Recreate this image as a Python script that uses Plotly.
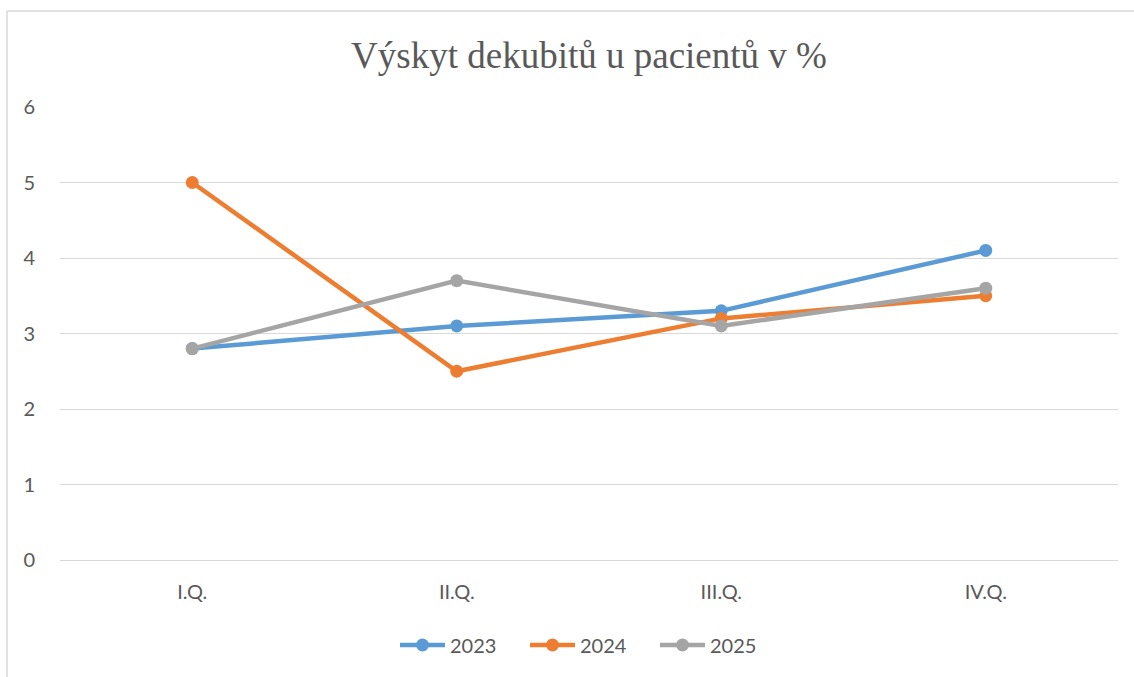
import plotly.graph_objects as go

categories = ["I.Q.", "II.Q.", "III.Q.", "IV.Q."]
years = ["2023", "2024", "2025"]
v2023 = [2.8, 3.1, 3.3, 4.1]
v2024 = [5.0, 2.5, 3.2, 3.5]
v2025 = [2.8, 3.7, 3.1, 3.6]
series = [v2023, v2024, v2025]
colors = ["#5B9BD5", "#ED7D31", "#A5A5A5"]
y_ticks = [0, 1, 2, 3, 4, 5, 6]

W, H = 1134, 677
L, R, T, B = 60, 16, 107, 117

fig = go.Figure()
for name, vals, c in zip(years, series, colors):
    fig.add_trace(go.Scatter(
        x=categories, y=vals, name=name, mode="lines+markers",
        line=dict(color=c, width=4.5),
        marker=dict(color=c, size=13),
    ))

pw = W - L - R
ph = H - T - B
fx = lambda px: (px - L) / pw
fy = lambda py: (H - B - py) / ph

fig.add_shape(type="line", xref="paper", yref="paper",
              x0=fx(7), x1=fx(7), y0=fy(11), y1=fy(700),
              line=dict(color="#D9D9D9", width=1.5))
fig.add_shape(type="line", xref="paper", yref="paper",
              x0=fx(7), x1=fx(1150), y0=fy(11), y1=fy(11),
              line=dict(color="#D9D9D9", width=1.5))

fig.update_layout(
    width=W, height=H,
    margin=dict(l=L, r=R, t=T, b=B),
    paper_bgcolor="white", plot_bgcolor="white",
    title=dict(text="Výskyt dekubitů u pacientů v %", x=0.5, xref="paper",
               y=1 - 55 / H, yanchor="middle",
               font=dict(family="Liberation Serif", size=37, color="#595959")),
    font=dict(family="Lato", size=20, color="#595959"),
    legend=dict(orientation="h", x=fx(590), xanchor="center", xref="paper",
                y=fy(645), yanchor="middle", entrywidth=70, entrywidthmode="pixels",
                itemwidth=45, font=dict(size=20, color="#595959")),
    xaxis=dict(type="category", range=[-0.5, 3.5], showgrid=False,
               showline=False, zeroline=False, ticks="outside", ticklen=14,
               tickcolor="rgba(0,0,0,0)"),
    yaxis=dict(range=[0, 6], tickvals=y_ticks, showgrid=True, gridcolor="#D9D9D9",
               gridwidth=1, zeroline=True, zerolinecolor="#D9D9D9", zerolinewidth=1,
               showline=False, ticks="outside", ticklen=20, tickcolor="rgba(0,0,0,0)"),
)

fig.write_html("out.html", config={"displayModeBar": False},
               post_script="document.body.style.margin='0';")
